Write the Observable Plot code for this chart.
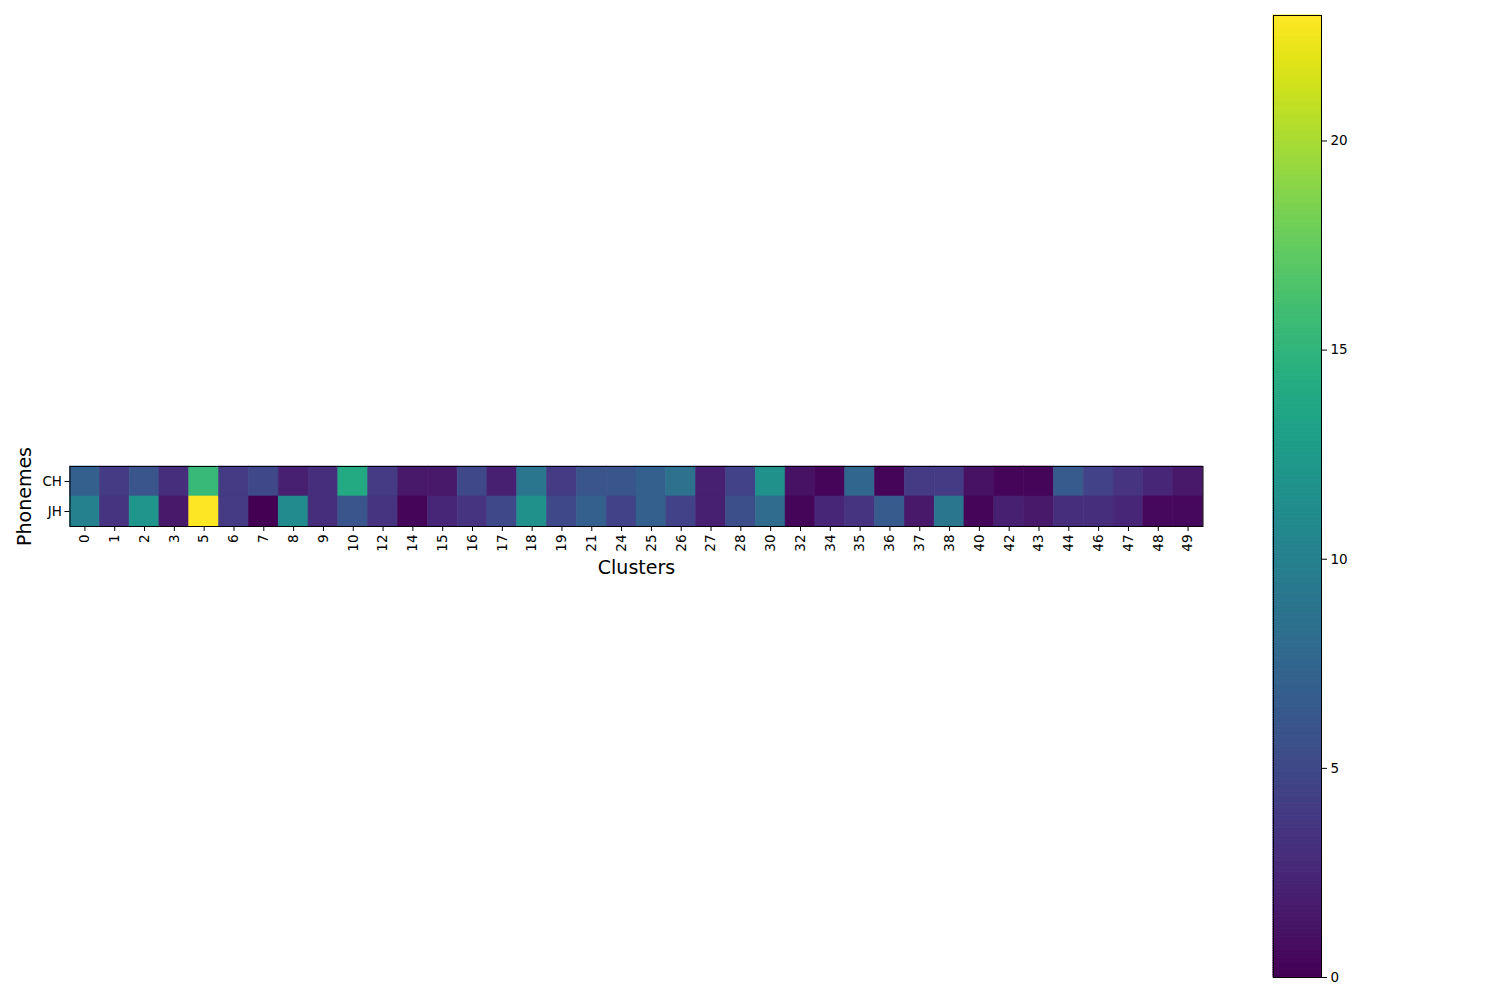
<!DOCTYPE html>
<html>
<head>
<meta charset="utf-8">
<script src="https://cdn.jsdelivr.net/npm/d3@7"></script>
<script src="https://cdn.jsdelivr.net/npm/@observablehq/plot@0.6"></script>
<style>
  html, body { margin: 0; padding: 0; background: #fff; }
  #wrap { position: relative; width: 1500px; height: 1000px; }
  #main, #cbar { position: absolute; top: 0; }
  #main { left: 0; }
  #cbar { left: 1263px; }
  svg { font-family: "DejaVu Sans", sans-serif; }
</style>
</head>
<body>
<div id="wrap"><div id="main"></div><div id="cbar"></div></div>
<script>
const clusters = [0,1,2,3,5,6,7,8,9,10,12,14,15,16,17,18,19,21,24,25,26,27,28,30,32,34,35,36,37,38,40,42,43,44,46,47,48,49];
const phonemes = ["CH", "JH"];
const chValues = [7,4,6,3,15.5,4,5,2,3,14,4,1.5,1.5,5,2,9,4,6,6,7,8.5,2,4.5,11.5,1,0.3,7.5,0.3,4,4,1,0.3,0.3,6.5,4.5,3.5,2.5,1.5];
const jhValues = [10,3.5,12,1.5,23,4,0,11,3,6,3.5,0.3,2.5,3.5,5,11.5,5,7,4.5,7,4.5,2,5.5,8,0.3,2.5,3.5,6.5,1.5,9,0.3,2,1.5,3,3,2.5,0.5,0.5];
const colorbarTicks = [0,5,10,15,20];
const colorMax = 23;

const cells = [];
clusters.forEach((c, i) => {
  cells.push({cluster: c, phoneme: "CH", value: chValues[i]});
  cells.push({cluster: c, phoneme: "JH", value: jhValues[i]});
});

const font = "DejaVu Sans, sans-serif";

const main = Plot.plot({
  width: 1500, height: 1000,
  marginLeft: 69.5, marginRight: 297.5, marginTop: 466, marginBottom: 474,
  style: {fontFamily: font, fontSize: "13.5px", color: "black", background: "white"},
  x: {type: "band", domain: clusters, padding: 0},
  y: {type: "band", domain: phonemes, padding: 0},
  color: {type: "linear", scheme: "viridis", domain: [0, colorMax]},
  marks: [
    Plot.cell(cells, {x: "cluster", y: "phoneme", fill: "value", stroke: "value", strokeWidth: 0.6}),
    Plot.frame({stroke: "black", strokeWidth: 1}),
    Plot.axisX({tickRotate: -90, tickSize: 5, tickPadding: 3, label: null, fontSize: 13.5}),
    Plot.axisY({tickSize: 5, tickPadding: 3, label: null, fontSize: 13.5}),
    Plot.text(["Clusters"], {frameAnchor: "bottom", dy: 41, text: d => d, fontSize: 19, lineAnchor: "middle"}),
    Plot.text(["Phonemes"], {frameAnchor: "left", dx: -45, text: d => d, fontSize: 19, rotate: -90, textAnchor: "middle", lineAnchor: "middle"})
  ]
});
document.getElementById("main").appendChild(main);

const steps = d3.range(0, colorMax, colorMax / 400).map(v => ({y1: v, y2: v + colorMax / 400, v: v + colorMax / 800}));
const cbar = Plot.plot({
  width: 140, height: 1000,
  marginLeft: 10, marginRight: 82, marginTop: 15, marginBottom: 23,
  style: {fontFamily: font, fontSize: "13.5px", color: "black", background: "transparent"},
  x: {axis: null, domain: [0, 1]},
  y: {domain: [0, colorMax], ticks: colorbarTicks},
  color: {type: "linear", scheme: "viridis", domain: [0, colorMax]},
  marks: [
    Plot.rect(steps, {x1: 0, x2: 1, y1: "y1", y2: "y2", fill: "v", stroke: "v", strokeWidth: 1}),
    Plot.frame({stroke: "black", strokeWidth: 1}),
    Plot.axisY(colorbarTicks, {anchor: "right", tickSize: 5, tickPadding: 4, label: null, fontSize: 13.5})
  ]
});
document.getElementById("cbar").appendChild(cbar);
</script>
</body>
</html>
